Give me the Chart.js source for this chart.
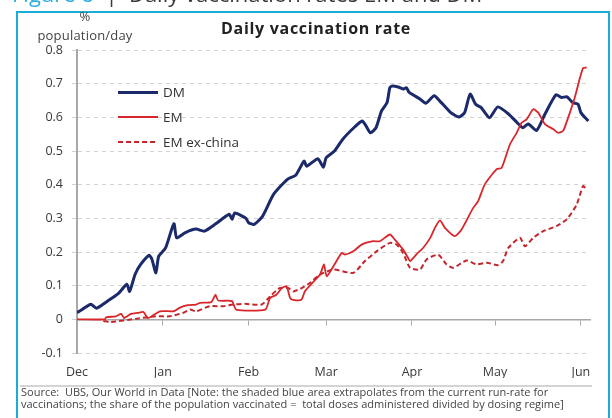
<!DOCTYPE html>
<html>
<head>
<meta charset="utf-8">
<script src="https://cdn.jsdelivr.net/npm/chart.js@4"></script>
<style>
  body { margin: 0; background: #fff; font-family: "Open Sans", "Noto Sans", sans-serif; color: #3a3a3a; }
  #wrap { position: relative; width: 612px; height: 418px; overflow: hidden; }
  #chart { position: absolute; left: 0; top: 0; }
  .abs { position: absolute; white-space: nowrap; }
  #frame { position: absolute; left: 16px; top: 11px; width: 590px; height: 420px; border: 2px solid #1aaed6; border-bottom: none; }
  #heading { left: 12px; top: -19px; font-size: 22px; line-height: 24px; color: #3a3a3a; }
  #heading .fig { color: #2aaee0; }
  #title { left: 0; width: 632px; text-align: center; top: 17px; font-size: 16px; letter-spacing: 0.7px; font-weight: bold; color: #222; }
  #yunit { left: 35px; width: 100px; text-align: center; top: 7px; font-size: 13px; letter-spacing: 0.2px; line-height: 19px; color: #444; }
  #legend { left: 118px; top: 83px; font-size: 13.5px; color: #333; }
  .item { position: relative; height: 25px; line-height: 18px; }
  .swatch { position: absolute; left: 0; width: 40px; }
  .item span.lbl { position: absolute; left: 45px; top: 0; }
  #sep { left: 20px; top: 385px; width: 572px; height: 0; border-top: 2px solid #d4d4d4; }
  #source { left: 21px; top: 386px; font-size: 11px; line-height: 11.5px; color: #444; }
</style>
</head>
<body>
<div id="wrap">
  <canvas id="chart" width="612" height="418"></canvas>
  <div id="frame"></div>
  <div id="heading" class="abs"><span class="fig">Figure 8</span>&nbsp; | &nbsp;Daily vaccination rates EM and DM</div>
  <div id="title" class="abs">Daily vaccination rate</div>
  <div id="yunit" class="abs">%<br>population/day</div>
  <div id="legend" class="abs"></div>
  <div id="sep" class="abs"></div>
  <div id="source" class="abs">Source:&nbsp; UBS, Our World in Data [Note: the shaded blue area extrapolates from the current run-rate for<br>vaccinations; the share of the population vaccinated =&nbsp; total doses administered divided by dosing regime]</div>
</div>
<script>
// x values are days since 1 Dec
const monthDays = [0, 31, 62, 90, 121, 151, 182];
const monthLabels = ['Dec', 'Jan', 'Feb', 'Mar', 'Apr', 'May', 'Jun'];
const yTicks = [-0.1, 0, 0.1, 0.2, 0.3, 0.4, 0.5, 0.6, 0.7, 0.8];

const dmDays = [0, 2, 5, 7, 11, 15, 18, 19, 21, 23, 26, 27, 28.5, 29.5, 32, 35, 36, 39, 43, 46,
  50, 55, 56, 57, 61, 62, 64, 67, 71, 76, 79, 82, 83, 87, 89, 90, 93, 96, 100, 103,
  104, 106, 108, 110, 112, 113, 114, 116, 118, 119, 120, 124, 126, 129, 131, 135, 138, 140, 142, 144,
  146, 149, 152, 156, 159, 161, 163, 166, 169, 173, 175, 177, 179, 181, 182, 184.7];
const dmValues = [0.02, 0.03, 0.045, 0.033, 0.054, 0.077, 0.104, 0.083, 0.134, 0.163, 0.19, 0.18, 0.138, 0.187, 0.212, 0.284, 0.242, 0.257, 0.268, 0.262,
  0.283, 0.312, 0.297, 0.316, 0.30, 0.287, 0.282, 0.306, 0.371, 0.416, 0.428, 0.47, 0.455, 0.477, 0.452, 0.48, 0.50, 0.535, 0.569, 0.589,
  0.58, 0.554, 0.569, 0.619, 0.644, 0.688, 0.693, 0.69, 0.684, 0.688, 0.674, 0.654, 0.642, 0.664, 0.649, 0.614, 0.601, 0.614, 0.669, 0.639,
  0.629, 0.599, 0.631, 0.609, 0.584, 0.569, 0.58, 0.561, 0.609, 0.667, 0.659, 0.661, 0.644, 0.639, 0.614, 0.589];

const emDays = [0, 10, 10.5, 14, 16, 17, 19.5, 22, 24, 25.5, 27, 30, 35, 37, 40, 43, 44.5, 48.5, 50, 51,
  56, 57.5, 68, 69.7, 72, 74, 75.7, 77, 78, 81, 82.3, 85, 87.8, 89.2, 90.2, 93, 95.6, 96.8, 99.8, 102.8,
  107, 109.4, 113, 114.8, 117.8, 119.6, 120.3, 122.7, 125, 127.6, 129.3, 131.1, 132.9, 136.5, 138.9, 143.1, 144.9, 147.3, 151.6, 153.4,
  156.4, 158.8, 160.6, 162.4, 164.8, 166.6, 169, 172, 173.8, 175.6, 177.4, 179.8, 181.7, 182.8, 184.1];
const emValues = [0, 0, 0.006, 0.009, 0.016, 0.004, 0.016, 0.019, 0.022, 0.004, 0.009, 0.024, 0.024, 0.034, 0.042, 0.044, 0.049, 0.051, 0.073, 0.056,
  0.054, 0.029, 0.029, 0.063, 0.073, 0.093, 0.098, 0.063, 0.058, 0.058, 0.083, 0.108, 0.133, 0.163, 0.128, 0.163, 0.197, 0.192, 0.202, 0.222,
  0.232, 0.232, 0.252, 0.237, 0.207, 0.182, 0.173, 0.194, 0.212, 0.242, 0.272, 0.294, 0.272, 0.247, 0.267, 0.331, 0.351, 0.401, 0.446, 0.45,
  0.52, 0.554, 0.584, 0.594, 0.624, 0.614, 0.58, 0.565, 0.554, 0.56, 0.599, 0.659, 0.718, 0.746, 0.748];

const exDays = [9.5, 12, 21.6, 28.5, 33.4, 38.2, 40.8, 43, 48, 52.8, 56.4, 60.7, 66.7, 70.3, 73.3, 76.3, 78.1, 81.2, 84.1, 87.8,
  92.6, 99.8, 104, 108.2, 113, 115.5, 117.8, 120.3, 123.9, 126.3, 130.5, 133.5, 135.9, 140.7, 144.3, 148, 152.1, 153.9, 155.8, 160,
  161.8, 164.8, 168.4, 173.2, 176.9, 180.5, 182.8, 184.1];
const exValues = [-0.005, -0.008, 0.002, 0.009, 0.009, 0.019, 0.029, 0.024, 0.039, 0.039, 0.044, 0.046, 0.044, 0.073, 0.093, 0.093, 0.083, 0.093, 0.108, 0.133,
  0.148, 0.138, 0.173, 0.202, 0.227, 0.222, 0.197, 0.153, 0.148, 0.178, 0.192, 0.163, 0.153, 0.175, 0.163, 0.168, 0.161, 0.173, 0.212, 0.242,
  0.217, 0.242, 0.262, 0.277, 0.297, 0.341, 0.396, 0.386];

const xMax = 185.3;
const gridGrey = '#d2d2d2';
const axisGrey = '#a8a8a8';

function points(days, values) {
    return days.map((d, i) => ({ x: d, y: values[i] }));
}

const series = [
    { label: 'DM', data: points(dmDays, dmValues), color: '#1b2a6b', width: 3, dash: [], order: 2 },
    { label: 'EM', data: points(emDays, emValues), color: '#d9262b', width: 1.8, dash: [], order: 0 },
    { label: 'EM ex-china', data: points(exDays, exValues), color: '#c4262c', width: 2, dash: [5, 3], order: 1 }
];

// legend as html
const legendEl = document.getElementById('legend');
series.forEach(s => {
    const item = document.createElement('div');
    item.className = 'item';
    const sw = document.createElement('div');
    sw.className = 'swatch';
    const h = Math.round(s.width);
    sw.style.height = h + 'px';
    sw.style.top = (9 - h / 2) + 'px';
    sw.style.background = s.dash.length
        ? 'repeating-linear-gradient(90deg, ' + s.color + ' 0 5px, transparent 5px 8px)'
        : s.color;
    const lbl = document.createElement('span');
    lbl.className = 'lbl';
    lbl.textContent = s.label;
    item.appendChild(sw);
    item.appendChild(lbl);
    legendEl.appendChild(item);
});

function monthTicks(scale) {
    scale.ticks = monthDays.map(v => ({ value: v }));
}

const ctx = document.getElementById('chart').getContext('2d');
new Chart(ctx, {
    type: 'line',
    data: {
        datasets: series.map(s => ({
            label: s.label,
            data: s.data,
            borderColor: s.color,
            borderWidth: s.width,
            borderDash: s.dash,
            pointRadius: 0,
            tension: 0.2,
            fill: false,
            order: s.order,
            xAxisID: 'x'
        }))
    },
    options: {
        responsive: false,
        animation: false,
        events: [],
        layout: { padding: { left: 37, right: 22, top: 50, bottom: 40 } },
        plugins: { legend: { display: false }, tooltip: { enabled: false } },
        scales: {
            x: {
                type: 'linear',
                position: 'bottom',
                min: 0,
                max: xMax,
                afterBuildTicks: monthTicks,
                afterFit: scale => { scale.height = 25; },
                grid: { display: false, drawTicks: false },
                border: { display: false },
                ticks: {
                    padding: 12,
                    color: '#3a3a3a',
                    font: { family: 'Open Sans', size: 12.5 },
                    maxRotation: 0,
                    autoSkip: false,
                    callback: (v, i) => monthLabels[i]
                }
            },
            x0: {
                type: 'linear',
                axis: 'x',
                position: { y: 0 },
                min: 0,
                max: xMax,
                afterBuildTicks: monthTicks,
                grid: { drawOnChartArea: false, drawTicks: true, tickLength: 5, color: axisGrey, tickColor: axisGrey },
                border: { display: true, color: axisGrey, width: 1.5 },
                ticks: { display: false }
            },
            y: {
                type: 'linear',
                position: 'left',
                min: -0.1,
                max: 0.8,
                afterBuildTicks: scale => { scale.ticks = yTicks.map(v => ({ value: v })); },
                afterFit: scale => { scale.width = 40; },
                grid: { color: gridGrey, lineWidth: 1, tickLength: 5, tickColor: gridGrey },
                border: { display: true, color: axisGrey, width: 2, dash: [4, 4] },
                ticks: {
                    padding: 9,
                    color: '#3a3a3a',
                    font: { family: 'Open Sans', size: 12.5 },
                    callback: v => String(Math.round(v * 10) / 10)
                }
            }
        }
    }
});
</script>
</body>
</html>
